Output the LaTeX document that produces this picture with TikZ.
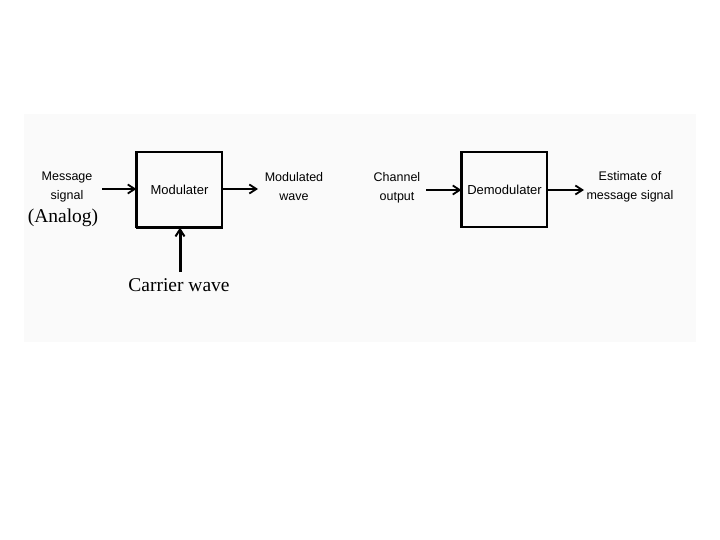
\documentclass[tikz,border=0pt]{standalone}
\usepackage{fontspec}
\setmainfont{Liberation Serif}
\setsansfont{Liberation Sans}
\usetikzlibrary{arrows.meta}
\begin{document}
\begin{tikzpicture}[x=1pt,y=-1pt,
  blk/.style={draw=black,line width=1.2pt,minimum width=85pt,minimum height=75pt,inner sep=0pt,font=\sffamily\fontsize{13}{14}\selectfont},
  lbl/.style={align=center,inner sep=0pt,font=\sffamily\fontsize{12.5}{19}\selectfont},
  serif/.style={inner sep=0pt,font=\rmfamily\fontsize{19.5}{22}\selectfont},
  sig/.style={line width=2pt,-{Straight Barb[length=7pt,width=9pt,line width=1.8pt]}},
  thick sig/.style={line width=3pt,-{Straight Barb[length=7pt,width=9pt,line width=2pt]}}]
\useasboundingbox (0,0) rectangle (720,540);
\fill[white!98!black] (24,114) rectangle (696,342);
% modulator
\node[blk] (mod) at (179.5,189.5) {Modulater};
\draw[line width=2.6pt] (mod.south west) -- (mod.north west);
\draw[line width=2.6pt] (mod.south west) -- (mod.south east);
\node[lbl] (msg) at (67,187) {Message\\signal};
\node[serif] (analog) at (63,218) {(Analog)};
\node[lbl] (modw) at (294,186.5) {Modulated\\wave};
\node[serif] (carrier) at (179,285) {Carrier wave};
\coordinate (msgend) at (102,189);
\coordinate (modout) at (258,189);
\coordinate (carend) at (180,272);
\draw[sig] (msgend) -- (mod.west |- msgend);
\draw[sig] (mod.east |- modout) -- (modout);
\draw[thick sig] (carend) -- (mod.south -| carend);
% demodulator
\node[blk] (dem) at (504.5,189.5) {Demodulater};
\draw[line width=2.6pt] (dem.south west) -- (dem.north west);
\node[lbl] (chan) at (397,187.5) {Channel\\output};
\node[lbl] (est) at (630,187) {Estimate of\\message signal};
\coordinate (chend) at (426,190);
\coordinate (demout) at (584,190);
\draw[sig] (chend) -- (dem.west |- chend);
\draw[sig] (dem.east |- demout) -- (demout);
\end{tikzpicture}
\end{document}
